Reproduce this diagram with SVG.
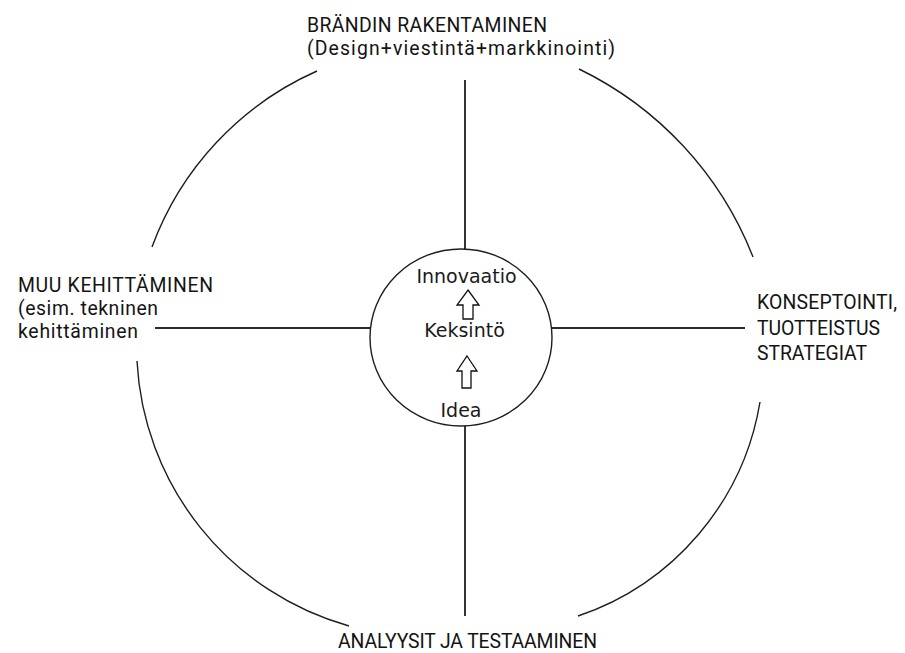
<svg xmlns="http://www.w3.org/2000/svg" width="905" height="653" viewBox="0 0 905 653">
  <style>
    .arc { fill: none; stroke: #1e1e1e; stroke-width: 1.4; }
    .spoke { fill: none; stroke: #2a2a2a; stroke-width: 1.9; }
    .hub { fill: #ffffff; stroke: #1e1e1e; stroke-width: 1.4; }
    .step { fill: #ffffff; stroke: #111111; stroke-width: 1.3; stroke-linejoin: miter; }
    .label { font-family: Roboto, "Liberation Sans", sans-serif; font-size: 19.4px; fill: #141414; }
    .core { font-family: "DejaVu Sans", "Liberation Sans", sans-serif; font-size: 19px; fill: #1a1a1a; text-anchor: middle; }
  </style>
  <rect width="905" height="653" fill="#ffffff"/>

  <!-- outer ring: four separate quarter arcs -->
  <g id="ring">
    <path class="arc" d="M152,247 A309,309 0 0 1 317,71"/>
    <path class="arc" d="M579,69 A351,351 0 0 1 753,257"/>
    <path class="arc" d="M760,402 A273,273 0 0 1 578,616"/>
    <path class="arc" d="M349,626 A291,291 0 0 1 137,361"/>
  </g>

  <!-- spokes from the hub out to each field -->
  <g id="connectors">
    <line class="spoke" x1="465" y1="80" x2="465" y2="249"/>
    <line class="spoke" x1="465" y1="426" x2="465" y2="616"/>
    <line class="spoke" x1="155" y1="328" x2="370" y2="328"/>
    <line class="spoke" x1="552" y1="328" x2="745" y2="328"/>
  </g>

  <!-- hub: Idea -> Keksintö -> Innovaatio -->
  <g id="hub">
    <ellipse class="hub" cx="461" cy="337.5" rx="91" ry="88.5"/>
    <text class="core" x="466.5" y="283">Innovaatio</text>
    <path class="step" d="M468,290 L479,305 L473,305 L473,319 L463,319 L463,305 L457,305 Z"/>
    <text class="core" x="464.5" y="337">Keksintö</text>
    <path class="step" d="M467,356 L477,371 L471,371 L471,388 L462,388 L462,371 L457,371 Z"/>
    <text class="core" x="461" y="417">Idea</text>
  </g>

  <g id="brand">
    <text class="label" x="307" y="32" textLength="240">BRÄNDIN RAKENTAMINEN</text>
    <text class="label" x="307" y="55" textLength="308">(Design+viestintä+markkinointi)</text>
  </g>

  <g id="other-development">
    <text class="label" x="18" y="292" textLength="195">MUU KEHITTÄMINEN</text>
    <text class="label" x="18" y="315" textLength="140">(esim. tekninen</text>
    <text class="label" x="18" y="338" textLength="120">kehittäminen</text>
  </g>

  <g id="concepting">
    <text class="label" x="757" y="309" textLength="140">KONSEPTOINTI,</text>
    <text class="label" x="757" y="334.5" textLength="123">TUOTTEISTUS</text>
    <text class="label" x="757" y="360" textLength="110">STRATEGIAT</text>
  </g>

  <g id="analysis">
    <text class="label" x="338" y="648" textLength="259">ANALYYSIT JA TESTAAMINEN</text>
  </g>
</svg>
